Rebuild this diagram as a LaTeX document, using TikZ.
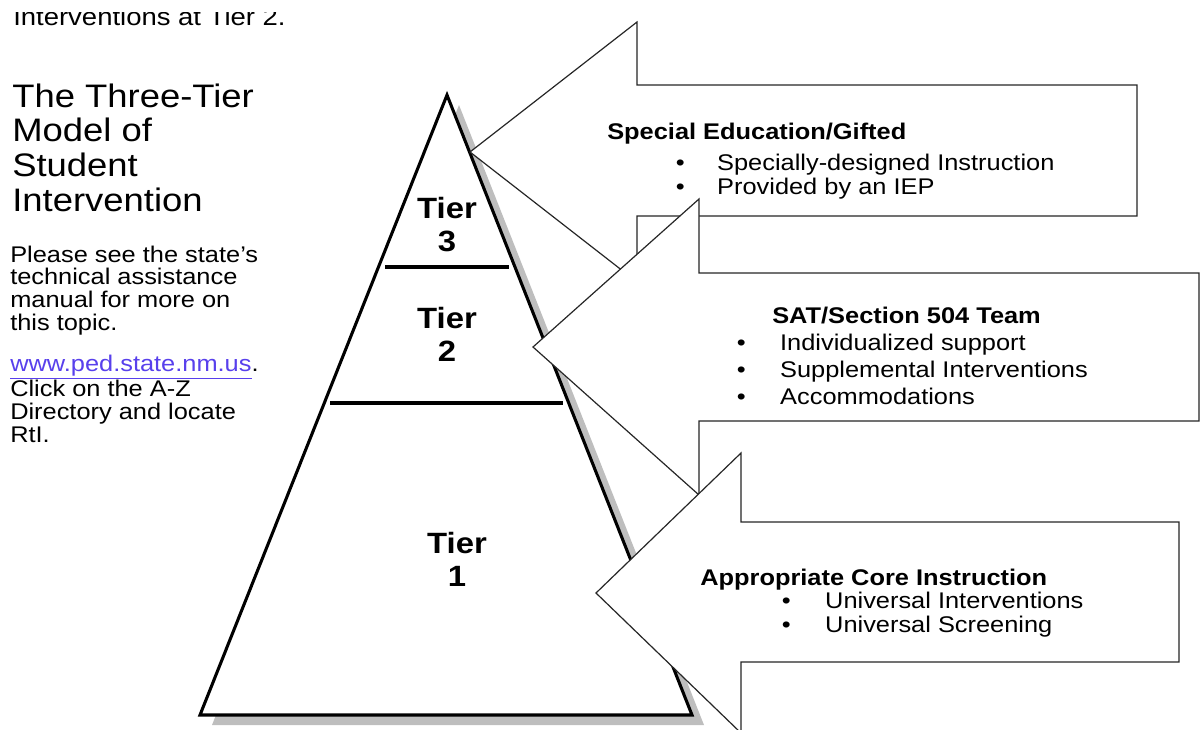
\documentclass[tikz,border=0pt]{standalone}
\usepackage{fontspec}
\setmainfont{Liberation Sans}[FakeStretch=1.12]
\usetikzlibrary{positioning, calc}

\definecolor{shadowgray}{RGB}{190,190,190}
\definecolor{linkblue}{RGB}{88,64,236}

\begin{document}
\begin{tikzpicture}[
    x=0.75pt, y=-0.75pt,
    pyramid/.style={draw=black, line width=2.3pt, fill=white, line join=miter},
    tierline/.style={draw=black, line width=2.3pt},
    bigarrow/.style={draw=black!85, line width=0.9pt, fill=white, line join=miter, miter limit=20},
    tierlabel/.style={font=\fontsize{22}{24.75}\selectfont\bfseries, align=center, inner sep=0pt, anchor=base},
    heading/.style={font=\fontsize{24.4}{26}\selectfont, align=left, inner sep=0pt, anchor=base west},
    info/.style={font=\fontsize{17}{16.9}\selectfont, align=left, inner sep=0pt, anchor=base west},
    boxtitle/.style={font=\fontsize{17}{17}\selectfont\bfseries, inner sep=0pt, anchor=base west},
    bullets/.style={font=\fontsize{17}{#1}\selectfont, align=left, inner sep=0pt, anchor=base west},
]
    \useasboundingbox (0,0) rectangle (1200,729);
    \clip (0,0) rectangle (1200,729);

    %% LEFT COLUMN (multi-line nodes sit on their last baseline)
    \begin{scope}
        \clip (0,12) rectangle (400,40);
        \node [info, font=\fontsize{18.4}{18.4}\selectfont] (prevline) at (13,25) {Interventions at Tier 2.};
    \end{scope}
    \node [heading] (heading) at (12,211) {The Three-Tier\\Model of\\Student\\Intervention};
    \node [info] (manual) at (10,330) {Please see the state’s\\technical assistance\\manual for more on\\this topic.};
    \node [info] (website) at (10,442) {\textcolor{linkblue}{\underline{www.ped.state.nm.us}}.\\Click on the A-Z\\Directory and locate\\RtI.};

    %% PYRAMID
    \coordinate (apex) at (447,95);
    \coordinate (left) at (200,715);
    \coordinate (right) at (692,715);

    % Shadow
    \fill [shadowgray] ($(apex)+(12,10)$) -- ($(right)+(12,10)$) -- ($(left)+(12,10)$) -- cycle;
    \draw [pyramid] (apex) -- (right) -- (left) -- cycle;

    % Tier borders
    \draw [tierline] (385,267) -- (509,267);
    \draw [tierline] (330,403) -- (563,403);

    \node [tierlabel] (tier3) at (447,251) {Tier\\3};
    \node [tierlabel] (tier2) at (447,361) {Tier\\2};
    \node [tierlabel] (tier1) at (457,586) {Tier\\1};

    %% ARROWS
    \draw [bigarrow] (470,152) -- (637,22) -- (637,85) -- (1137,85) -- (1137,216) -- (637,216) -- (637,282) -- cycle;
    \node [boxtitle] (sped) at (607,139) {Special Education/Gifted};
    \node [bullets=18pt] (spedlist) at (675.5,194) {\textbullet\hspace{24.4pt}Specially-designed Instruction\\\textbullet\hspace{24.4pt}Provided by an IEP};

    \draw [bigarrow] (533,347) -- (699,199) -- (699,273) -- (1199,273) -- (1199,421) -- (699,421) -- (699,495) -- cycle;
    \node [boxtitle] (sat) at (772,323) {SAT/Section 504 Team};
    \node [bullets=19.9pt] (satlist) at (736.5,404) {\textbullet\hspace{25.9pt}Individualized support\\\textbullet\hspace{25.9pt}Supplemental Interventions\\\textbullet\hspace{25.9pt}Accommodations};

    \draw [bigarrow] (596,593) -- (741,453) -- (741,522) -- (1179,522) -- (1179,662) -- (741,662) -- (741,733) -- cycle;
    \node [boxtitle] (core) at (700,585) {Appropriate Core Instruction};
    \node [bullets=18pt] (corelist) at (781.5,632) {\textbullet\hspace{25.9pt}Universal Interventions\\\textbullet\hspace{25.9pt}Universal Screening};

\end{tikzpicture}
\end{document}
